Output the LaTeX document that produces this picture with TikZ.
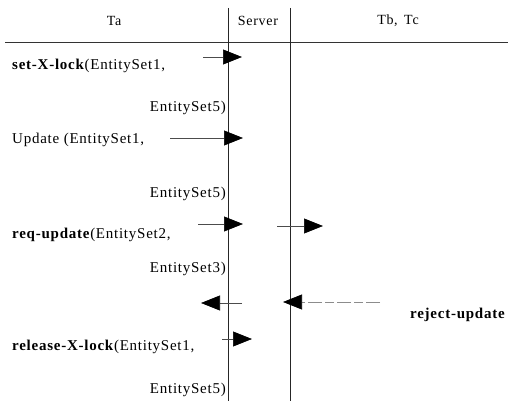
\documentclass[tikz,border=0pt]{standalone}
\usepackage{fontspec}
\setmainfont{Liberation Serif}[LetterSpace=5]
\usetikzlibrary{arrows.meta}
\begin{document}
\begin{tikzpicture}[x=1pt,y=-1pt,
  lifeline/.style={line width=1pt,black!85},
  rule/.style={line width=0.9pt,black!80},
  msg/.style={line width=0.6pt,black!70,-{Triangle[length=19pt,width=15pt,black]}},
  dmsg/.style={msg,black!45,dash pattern=on 14pt off 3pt on 9pt off 3pt},
  lbl/.style={inner sep=0pt,font=\fontsize{15}{17}\selectfont,anchor=base west},
  rlbl/.style={lbl,anchor=base east},
  hdr/.style={inner sep=0pt,font=\fontsize{14}{16}\selectfont}
]
\useasboundingbox (0,0) rectangle (508,401);
% lifelines and header rule
\coordinate (lt) at (228,8); \coordinate (lb) at (228,401);
\coordinate (rt) at (290,8); \coordinate (rb) at (290,401);
\coordinate (hl) at (5,42); \coordinate (hr) at (508,42);
\draw[rule] (hl) -- (hr);
\draw[lifeline] (lt) -- (lb);
\draw[lifeline] (rt) -- (rb);
% headers
\node[hdr] (ta) at (114,21) {Ta};
\node[hdr] (srv) at (258,21) {Server};
\node[hdr] (tbc) at (398,21) {Tb,\, Tc};
% labels
\node[lbl] (l1) at (12,70) {\textbf{set-X-lock}(EntitySet1,};
\node[rlbl] (l2) at (226,112) {EntitySet5)};
\node[lbl] (l3) at (12,143) {Update (EntitySet1,};
\node[rlbl] (l4) at (226,197) {EntitySet5)};
\node[lbl] (l5) at (12,238) {\textbf{req-update}(EntitySet2,};
\node[rlbl] (l6) at (226,272) {EntitySet3)};
\node[lbl] (l7) at (410,318) {\textbf{reject-update}};
\node[lbl] (l8) at (12,350) {\textbf{release-X-lock}(EntitySet1,};
\node[rlbl] (l9) at (226,393) {EntitySet5)};
% message endpoints
\coordinate (m1s) at (203,57); \coordinate (m1e) at (242,57);
\coordinate (m2s) at (170,138); \coordinate (m2e) at (243,138);
\coordinate (m3s) at (198,224); \coordinate (m3e) at (243,224);
\coordinate (m4s) at (277,226); \coordinate (m4e) at (323,226);
\coordinate (m5s) at (380,302); \coordinate (m5e) at (283,302);
\coordinate (m6s) at (242,303); \coordinate (m6e) at (201,303);
\coordinate (m7s) at (222,339); \coordinate (m7e) at (252,339);
\draw[msg] (m1s) -- (m1e);
\draw[msg] (m2s) -- (m2e);
\draw[msg] (m3s) -- (m3e);
\draw[msg] (m4s) -- (m4e);
\draw[dmsg] (m5s) -- (m5e);
\draw[msg] (m6s) -- (m6e);
\draw[msg] (m7s) -- (m7e);
\end{tikzpicture}
\end{document}
